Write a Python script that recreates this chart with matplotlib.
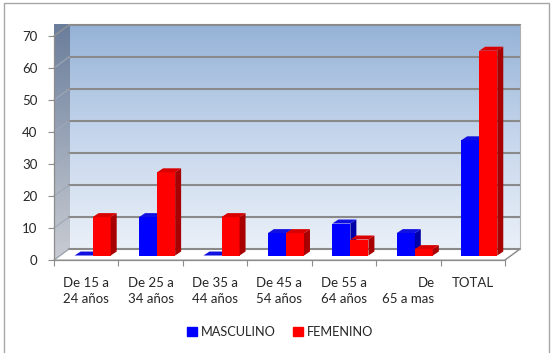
import numpy as np
import matplotlib
matplotlib.use("Agg")
import matplotlib.pyplot as plt
from matplotlib.patches import Polygon, Rectangle
from matplotlib.lines import Line2D
from matplotlib.colors import LinearSegmentedColormap

plt.rcParams['font.family'] = ['Lato', 'DejaVu Sans']

categorias = ["De 15 a\n24 años", "De 25 a\n34 años", "De 35 a\n44 años",
              "De 45 a\n54 años", "De 55 a\n64 años", "De\n65 a mas", "TOTAL"]
masculino = [0, 12, 0, 7, 10, 7, 36]
femenino = [12, 26, 12, 7, 5, 2, 64]
yticks = [0, 10, 20, 30, 40, 50, 60, 70]

# efecto 3D: desplazamiento de la pared del fondo (unidades de datos)
DX, DY = 0.233, 3.44
BW = 0.28           # ancho de barra
SX, SY = 0.10, 1.4  # posicion en profundidad de las barras
BDX, BDY = 0.093, 1.25  # profundidad lateral / superior de la barra

fig = plt.figure(figsize=(5.55, 3.53), dpi=100)
ax = fig.add_axes([54/555, 93/353, 451/555, 224/353])
ax.set_xlim(0, 7)
ax.set_ylim(0, 70)
for s in ax.spines.values():
    s.set_visible(False)
ax.patch.set_visible(False)

n = len(categorias)

# pared del fondo con degradado
grad = np.linspace(0, 1, 256).reshape(-1, 1)
wall_cm = LinearSegmentedColormap.from_list("wall", ["#eaf0f8", "#c6d6ec", "#95b3d7"])
ax.imshow(grad, cmap=wall_cm, origin="lower", aspect="auto",
          extent=[DX, n + DX, DY, 70 + DY], zorder=0, clip_on=False)

# pared lateral izquierda
side_cm = LinearSegmentedColormap.from_list("side", ["#c9ccd2", "#9aa6b8", "#6a7d9b"])
im = ax.imshow(grad, cmap=side_cm, origin="lower", aspect="auto",
               extent=[0, DX, 0, 70 + DY], zorder=0, clip_on=False)
side_poly = Polygon([(0, 0), (DX, DY), (DX, 70 + DY), (0, 70)], closed=True,
                    transform=ax.transData)
im.set_clip_path(side_poly)

# piso
ax.add_patch(Polygon([(0, 0), (n, 0), (n + DX, DY), (DX, DY)], closed=True,
                     facecolor="white", edgecolor="#a6a6a6", lw=0.8,
                     zorder=1, clip_on=False))

# lineas de cuadricula
for v in yticks:
    ax.plot([DX, n + DX], [v + DY, v + DY], color="#8a8a8a", lw=1.5,
            zorder=1, clip_on=False)
    ax.plot([0, DX], [v, v + DY], color="#a0a8b8", lw=0.8, zorder=1, clip_on=False)
ax.plot([n + DX, n + DX], [DY, 70 + DY], color="#b0b0b0", lw=0.8, zorder=1, clip_on=False)
ax.plot([0, DX], [70, 70 + DY], color="#8c8c8c", lw=0.8, zorder=1, clip_on=False)

# barras
centers = np.arange(n) + 0.5
xb = centers + SX - BW / 2
xr = centers + SX + BW / 2
series = [(xb, masculino, "#0000ff", "#0000a8", "#1010e0"),
          (xr, femenino, "#ff0000", "#a80000", "#d80000")]
for i in range(n):
    for xs, vals, c_front, c_side, c_top in series:
        x0 = xs[i] - BW / 2
        h = vals[i]
        ax.bar(xs[i], h, width=BW, bottom=SY, color=c_front, zorder=3 + i * 0.01,
               linewidth=0, clip_on=False)
        top = SY + h
        ax.add_patch(Polygon([(x0 + BW, SY), (x0 + BW + BDX, SY + BDY),
                              (x0 + BW + BDX, top + BDY), (x0 + BW, top)],
                             closed=True, facecolor=c_side, lw=0,
                             zorder=3 + i * 0.01, clip_on=False))
        ax.add_patch(Polygon([(x0, top), (x0 + BW, top), (x0 + BW + BDX, top + BDY),
                              (x0 + BDX, top + BDY)],
                             closed=True, facecolor=c_top, lw=0,
                             zorder=3 + i * 0.01, clip_on=False))

# ejes
ax.plot([0, 0], [0, 70], color="#8c8c8c", lw=0.9, zorder=4, clip_on=False)
ax.plot([0, n], [0, 0], color="#8c8c8c", lw=0.9, zorder=4, clip_on=False)
ax.plot([n, n + DX], [0, DY], color="#8c8c8c", lw=0.9, zorder=4, clip_on=False)

ax.set_yticks(yticks)
ax.set_yticklabels([str(v) for v in yticks], fontsize=9.5, color="#262626")
ax.tick_params(axis="y", length=4, width=0.8, color="#8c8c8c", pad=8)
ax.set_xticks(np.arange(n + 1), minor=False)
ax.set_xticklabels([])
ax.tick_params(axis="x", length=4, width=0.8, color="#8c8c8c", direction="out")
ax.set_xticks(centers, minor=True)
ax.set_xticklabels(categorias, minor=True, fontsize=9.5, color="#262626",
                   linespacing=1.45)
ax.tick_params(axis="x", which="minor", length=0, pad=12)
lbls = ax.get_xticklabels(minor=True)
lbls[5].set_multialignment("right")

# leyenda
handles = [Rectangle((0, 0), 1, 1, color="#0000ff"), Rectangle((0, 0), 1, 1, color="#ff0000")]
fig.legend(handles, ["MASCULINO", "FEMENINO"], loc="center", bbox_to_anchor=(0.505, 1 - 332/353),
           ncol=2, frameon=False, fontsize=9.2, handlelength=0.75, handleheight=0.75,
           handletextpad=0.3, columnspacing=1.4, labelcolor="#262626")

# borde del grafico
fig.add_artist(Line2D([4/555, 4/555, 549/555, 549/555],
                      [0, 1 - 3/353, 1 - 3/353, 0], color="#a6a6a6", lw=1.0))

fig.savefig("out.png", dpi=100)
